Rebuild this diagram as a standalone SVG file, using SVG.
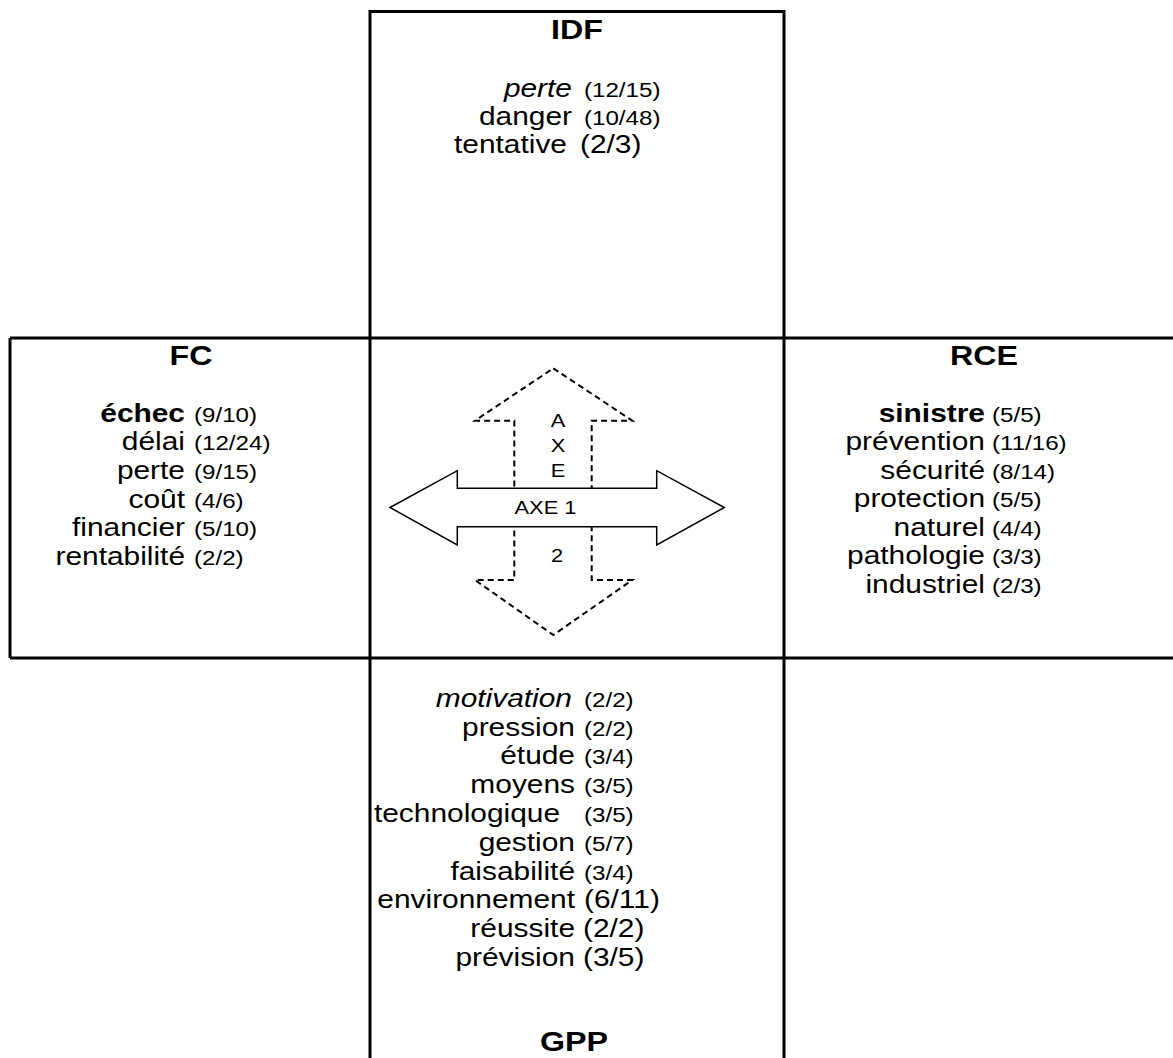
<svg xmlns="http://www.w3.org/2000/svg" width="1173" height="1058" viewBox="0 0 1173 1058">
<style>
text { font-family: "Liberation Sans", Arial, sans-serif; fill: #000; }
.w { font-size: 26px; text-anchor: end; }
.n { font-size: 21px; text-anchor: start; }
.L { font-size: 26px; text-anchor: start; }
.t { font-size: 28px; font-weight: bold; text-anchor: middle; }
.b { font-weight: bold; }
.i { font-style: italic; }
.s { font-size: 19px; text-anchor: middle; }
.frame { fill: none; stroke: #000; stroke-width: 3; }
.dash { fill: #fff; stroke: #000; stroke-width: 2; stroke-dasharray: 6 4; }
.solid { fill: #fff; stroke: #000; stroke-width: 1.5; }
</style>
<rect width="1173" height="1058" fill="#fff"/>
<g id="frame">
  <path class="frame" d="M370 1058 V11.5 H784 V1058 M10 338 H1173 M10 658 H1173 M10 338 V658"/>
</g>
<g id="IDF">
  <text class="t" transform="translate(577 39) scale(1.15 1)">IDF</text>
  <text class="w i" transform="translate(572 97) scale(1.15 1)">perte</text>
  <text class="n" transform="translate(584 97) scale(1.15 1)">(12/15)</text>
  <text class="w" transform="translate(572 125) scale(1.15 1)">danger</text>
  <text class="n" transform="translate(584 125) scale(1.15 1)">(10/48)</text>
  <text class="w" transform="translate(567 153) scale(1.15 1)">tentative</text>
  <text class="L" transform="translate(580 153) scale(1.15 1)">(2/3)</text>
</g>
<g id="FC">
  <text class="t" transform="translate(191 365) scale(1.15 1)">FC</text>
  <text class="w b" transform="translate(185 422) scale(1.15 1)">échec</text>
  <text class="n" transform="translate(194 422) scale(1.15 1)">(9/10)</text>
  <text class="w" transform="translate(185 450) scale(1.15 1)">délai</text>
  <text class="n" transform="translate(194 450) scale(1.15 1)">(12/24)</text>
  <text class="w" transform="translate(185 479) scale(1.15 1)">perte</text>
  <text class="n" transform="translate(194 479) scale(1.15 1)">(9/15)</text>
  <text class="w" transform="translate(185 508) scale(1.15 1)">coût</text>
  <text class="n" transform="translate(194 508) scale(1.15 1)">(4/6)</text>
  <text class="w" transform="translate(185 536) scale(1.15 1)">financier</text>
  <text class="n" transform="translate(194 536) scale(1.15 1)">(5/10)</text>
  <text class="w" transform="translate(185 565) scale(1.15 1)">rentabilité</text>
  <text class="n" transform="translate(194 565) scale(1.15 1)">(2/2)</text>
</g>
<g id="RCE">
  <text class="t" transform="translate(984 365) scale(1.15 1)">RCE</text>
  <text class="w b" transform="translate(985 422) scale(1.15 1)">sinistre</text>
  <text class="n" transform="translate(992 422) scale(1.15 1)">(5/5)</text>
  <text class="w" transform="translate(985 450) scale(1.15 1)">prévention</text>
  <text class="n" transform="translate(992 450) scale(1.15 1)">(11/16)</text>
  <text class="w" transform="translate(985 479) scale(1.15 1)">sécurité</text>
  <text class="n" transform="translate(992 479) scale(1.15 1)">(8/14)</text>
  <text class="w" transform="translate(985 507) scale(1.15 1)">protection</text>
  <text class="n" transform="translate(992 507) scale(1.15 1)">(5/5)</text>
  <text class="w" transform="translate(985 536) scale(1.15 1)">naturel</text>
  <text class="n" transform="translate(992 536) scale(1.15 1)">(4/4)</text>
  <text class="w" transform="translate(985 564) scale(1.15 1)">pathologie</text>
  <text class="n" transform="translate(992 564) scale(1.15 1)">(3/3)</text>
  <text class="w" transform="translate(985 593) scale(1.15 1)">industriel</text>
  <text class="n" transform="translate(992 593) scale(1.15 1)">(2/3)</text>
</g>
<g id="GPP">
  <text class="w i" transform="translate(572 707) scale(1.15 1)">motivation</text>
  <text class="n" transform="translate(584 707) scale(1.15 1)">(2/2)</text>
  <text class="w" transform="translate(575 736) scale(1.15 1)">pression</text>
  <text class="n" transform="translate(584 736) scale(1.15 1)">(2/2)</text>
  <text class="w" transform="translate(575 764) scale(1.15 1)">étude</text>
  <text class="n" transform="translate(584 764) scale(1.15 1)">(3/4)</text>
  <text class="w" transform="translate(575 793) scale(1.15 1)">moyens</text>
  <text class="n" transform="translate(584 793) scale(1.15 1)">(3/5)</text>
  <text class="w" transform="translate(560 822) scale(1.15 1)">technologique</text>
  <text class="n" transform="translate(584 822) scale(1.15 1)">(3/5)</text>
  <text class="w" transform="translate(575 851) scale(1.15 1)">gestion</text>
  <text class="n" transform="translate(584 851) scale(1.15 1)">(5/7)</text>
  <text class="w" transform="translate(575 880) scale(1.15 1)">faisabilité</text>
  <text class="n" transform="translate(584 880) scale(1.15 1)">(3/4)</text>
  <text class="w" transform="translate(575 908) scale(1.15 1)">environnement</text>
  <text class="L" transform="translate(584 908) scale(1.15 1)">(6/11)</text>
  <text class="w" transform="translate(575 937) scale(1.15 1)">réussite</text>
  <text class="L" transform="translate(583 937) scale(1.15 1)">(2/2)</text>
  <text class="w" transform="translate(575 966) scale(1.15 1)">prévision</text>
  <text class="L" transform="translate(583 966) scale(1.15 1)">(3/5)</text>
  <text class="t" transform="translate(574 1051) scale(1.15 1)">GPP</text>
</g>
<g id="connectors">
  <g id="axe2">
    <path class="dash" d="M553.3 368.3 L632.3 420.7 H591.7 V580 H632.3 L553.3 635 L475 580 H514.3 V420.7 H475 Z"/>
    <text class="s" transform="translate(558 427) scale(1.15 1)">A</text>
    <text class="s" transform="translate(558 452) scale(1.15 1)">X</text>
    <text class="s" transform="translate(558 477) scale(1.15 1)">E</text>
    <text class="s" transform="translate(557 562) scale(1.15 1)">2</text>
  </g>
  <g id="axe1">
    <path class="solid" d="M390 507.5 L457.3 470.7 V488.3 H656.7 V470.7 L724.3 507.5 L656.7 545 V526.7 H457.3 V545 Z"/>
    <text class="s" transform="translate(545.5 513.5) scale(1.15 1)">AXE 1</text>
  </g>
</g>
</svg>
